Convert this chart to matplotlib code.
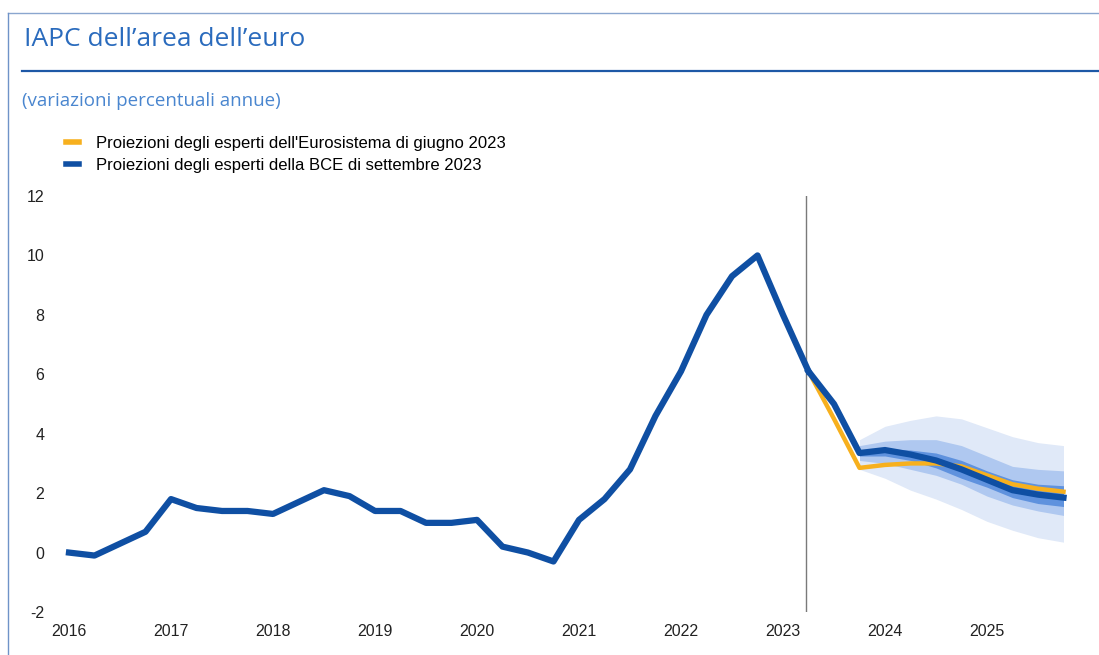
import matplotlib
matplotlib.use("Agg")
import matplotlib.pyplot as plt
from matplotlib.lines import Line2D
import numpy as np

plt.rcParams["axes.unicode_minus"] = False

# Dati (variazioni percentuali annue, trimestrali)
anni_tick = [2016, 2017, 2018, 2019, 2020, 2021, 2022, 2023, 2024, 2025]
tick_y = [-2, 0, 2, 4, 6, 8, 10, 12]

# storico 2016T1 - 2023T2
storico = [0.0, -0.1, 0.3, 0.7, 1.8, 1.5, 1.4, 1.4, 1.3, 1.7, 2.1, 1.9,
           1.4, 1.4, 1.0, 1.0, 1.1, 0.2, 0.0, -0.3, 1.1, 1.8, 2.8, 4.6,
           6.1, 8.0, 9.3, 10.0, 8.0, 6.1]

# proiezioni 2023T2 - 2025T4
proiez_settembre = [6.1, 5.0, 3.35, 3.45, 3.3, 3.1, 2.8, 2.45, 2.1, 1.95, 1.85]
proiez_giugno = [6.1, 4.5, 2.85, 2.95, 3.0, 3.0, 2.9, 2.6, 2.3, 2.15, 2.05]

# intervalli di incertezza 2023T4 - 2025T4
banda_ext_sup = [3.8, 4.25, 4.45, 4.6, 4.5, 4.2, 3.9, 3.7, 3.6]
banda_ext_inf = [2.8, 2.5, 2.1, 1.8, 1.45, 1.05, 0.75, 0.5, 0.35]
banda_med_sup = [3.6, 3.75, 3.8, 3.8, 3.6, 3.25, 2.9, 2.8, 2.75]
banda_med_inf = [3.1, 3.0, 2.8, 2.6, 2.3, 1.9, 1.6, 1.4, 1.25]
banda_int_sup = [3.45, 3.5, 3.45, 3.35, 3.1, 2.75, 2.45, 2.3, 2.25]
banda_int_inf = [3.25, 3.25, 3.1, 2.85, 2.5, 2.2, 1.85, 1.65, 1.55]

etichette = ["Proiezioni degli esperti dell'Eurosistema di giugno 2023",
             "Proiezioni degli esperti della BCE di settembre 2023"]

# asse temporale trimestrale
x_storico = 2016 + np.arange(len(storico)) / 4
x_proiez = x_storico[-1] + np.arange(len(proiez_settembre)) / 4
x_banda = x_proiez[2:]

W, H = 1099, 655
fig = plt.figure(figsize=(W / 100, H / 100), dpi=100)
ax = fig.add_axes([50 / W, 1 - 612 / H, (1075 - 50) / W, (612 - 196) / H])

c_blu = "#0f4fa3"
c_giallo = "#f7b01e"

ax.fill_between(x_banda, banda_ext_inf, banda_ext_sup, color="#e0e9f8", lw=0, zorder=1)
ax.fill_between(x_banda, banda_med_inf, banda_med_sup, color="#afc8f0", lw=0, zorder=2)
ax.fill_between(x_banda, banda_int_inf, banda_int_sup, color="#5f92de", lw=0, zorder=3)

ax.axvline(x_storico[-1] - 0.02, color="#7a7a7a", lw=1, zorder=4)

ax.plot(x_proiez, proiez_giugno, color=c_giallo, lw=3.2, zorder=5)
ax.plot(x_proiez, proiez_settembre, color=c_blu, lw=4.5, zorder=6)
ax.plot(x_storico, storico, color=c_blu, lw=4.5, zorder=6)

ax.set_xlim(2016 - 19 / 102, 2025 + 88 / 102)
ax.set_ylim(-2, 12)
ax.set_xticks(anni_tick)
ax.set_xticklabels([str(a) for a in anni_tick])
ax.set_yticks(tick_y)
for s in ax.spines.values():
    s.set_visible(False)
ax.tick_params(length=0, labelsize=11.5, labelcolor="#222222")
ax.tick_params(axis="y", pad=4)
ax.tick_params(axis="x", pad=9)
for lab in ax.get_xticklabels() + ax.get_yticklabels():
    lab.set_family("Liberation Sans")
ax.patch.set_alpha(0)

# cornice e intestazione
fig.add_artist(Line2D([8 / W, 1], [1 - 13 / H] * 2, color="#8aa6cf", lw=1))
fig.add_artist(Line2D([8 / W, 8 / W], [0, 1 - 13 / H], color="#6f93c8", lw=1))
fig.add_artist(Line2D([22 / W, 1], [1 - 70.5 / H] * 2, color="#1d58a6", lw=1.6))

fig.text(24 / W, 1 - 46 / H, "IAPC dell\u2019area dell\u2019euro", fontsize=19,
         color="#2a6bbd", family="Open Sans", va="baseline")
fig.text(22 / W, 1 - 101 / H, "(variazioni percentuali annue)", fontsize=13.5,
         color="#4a86cf", family="Open Sans", va="center")

maniglie = [Line2D([], [], color=c_giallo, lw=4), Line2D([], [], color=c_blu, lw=4)]
fig.legend(maniglie, etichette, loc="upper left",
           bbox_to_anchor=(66 / W, 1 - 136 / H), bbox_transform=fig.transFigure,
           frameon=False, borderpad=0, borderaxespad=0, handlelength=0.8,
           handletextpad=1.0, labelspacing=0.4,
           prop={"family": "Liberation Sans", "size": 12})

fig.savefig("out.png", dpi=100)
